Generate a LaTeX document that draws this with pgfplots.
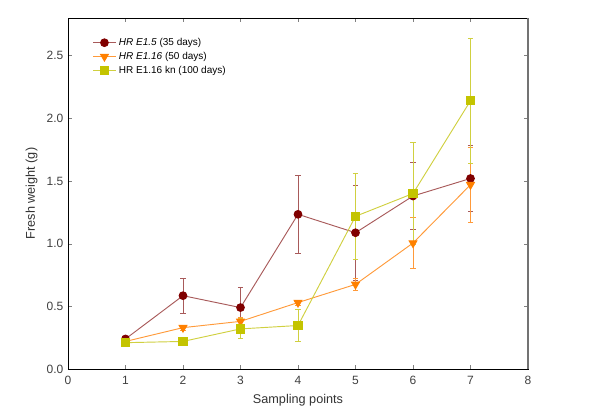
\documentclass[border=0pt]{standalone}
\usepackage{pgfplots}
\pgfplotsset{compat=1.18}
\usepackage{fontspec}
\setmainfont{Liberation Sans}
\definecolor{redM}{HTML}{800000}
\definecolor{redL}{HTML}{A85A5A}
\definecolor{orM}{HTML}{FF8000}
\definecolor{orL}{HTML}{FF9A3A}
\definecolor{olM}{HTML}{C4C400}
\definecolor{olL}{HTML}{D0D040}
\begin{document}
\begin{tikzpicture}
\begin{axis}[
  scale only axis,
  width=345pt, height=263.25pt,
  xmin=0, xmax=8, ymin=0, ymax=2.8,
  xtick={0,1,...,8},
  ytick={0,0.5,1,1.5,2,2.5},
  yticklabel style={/pgf/number format/.cd, fixed, fixed zerofill, precision=1},
  /pgf/number format/assume math mode=true,
  tick align=inside,
  major tick length=3pt,
  axis line style={line width=0.6pt},
  ticklabel style={font=\fontsize{9}{10}\selectfont, text=black!75},
  xticklabel style={yshift=-2pt},
  label style={font=\fontsize{9.5}{11}\selectfont, text=black!80},
  xlabel={Sampling points},
  ylabel={Fresh weight (g)},
  xlabel style={yshift=0pt},
  ylabel style={yshift=0pt},
  clip=false,
  legend style={draw=none, fill=none, at={(rel axis cs:0.05,0.955)}, anchor=north west,
    font=\fontsize{7.5}{9}\selectfont, row sep=-0.5pt, inner sep=1pt},
  legend cell align=left,
  every axis plot/.append style={line width=0.7pt},
  error bars/error bar style={line width=0.7pt},
  error bars/error mark options={rotate=90, mark size=2pt, line width=0.7pt},
]
\addplot[color=redL, mark=*, mark size=2.9pt, mark options={draw=redM, fill=redM},
  error bars/.cd, y dir=both, y explicit]
  table[x=x, y=y, y error=e] {
x y e
1 0.24 0.01
2 0.585 0.14
3 0.49 0.16
4 1.234 0.31
5 1.087 0.38
6 1.38 0.27
7 1.52 0.26
};
\addlegendentry{\textit{HR E1.5} (35 days)}
\addplot[color=orL, mark=triangle*, mark size=3.4pt, mark options={draw=orM, fill=orM, rotate=180},
  error bars/.cd, y dir=both, y explicit]
  table[x=x, y=y, y error=e] {
x y e
1 0.22 0.01
2 0.33 0.02
3 0.38 0.03
4 0.53 0.02
5 0.675 0.05
6 1.005 0.20
7 1.47 0.30
};
\addlegendentry{\textit{HR E1.16} (50 days)}
\addplot[color=olL, mark=square*, mark size=3.1pt, mark options={draw=olM, fill=olM},
  error bars/.cd, y dir=both, y explicit]
  table[x=x, y=y, y error=e] {
x y e
1 0.21 0.01
2 0.22 0.01
3 0.32 0.08
4 0.347 0.13
5 1.218 0.345
6 1.40 0.41
7 2.14 0.50
};
\addlegendentry{HR E1.16 kn (100 days)}
\draw[black!55, line width=1.5pt] (rel axis cs:1,0) -- (rel axis cs:1,1);
\path (rel axis cs:-0.147826,-0.139601) rectangle (rel axis cs:1.156522,1.051282);
\end{axis}
\end{tikzpicture}
\end{document}
